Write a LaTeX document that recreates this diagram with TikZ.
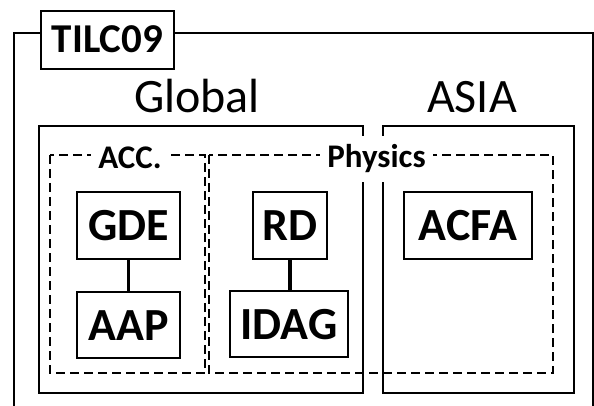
\documentclass[tikz,border=0pt]{standalone}
\usepackage{fontspec}
\setmainfont{Carlito}
\begin{document}
\begin{tikzpicture}[x=1pt,y=-1pt,
  box/.style={draw,line width=1.6pt,inner sep=0pt,fill=white,
    font=\bfseries\fontsize{46}{46}\selectfont,text height=30pt,text depth=0pt},
  region/.style={line width=2.8pt},
  grp/.style={line width=2.8pt,dash pattern=on 9pt off 5pt},
  grplabel/.style={fill=white,inner xsep=7pt,inner ysep=9pt,
    font=\bfseries\fontsize{33}{33}\selectfont},
  bigtitle/.style={font=\fontsize{48}{48}\selectfont,anchor=base},
  link/.style={line width=3.2pt}]
\useasboundingbox (0,0) rectangle (594,406);
% outer frame
\draw[line width=2pt] (14,406) -- (14,33) -- (592.5,33) -- (592.5,406);
\node[draw,line width=1.6pt,fill=white,inner sep=0pt,minimum width=133pt,minimum height=58pt,
  font=\bfseries\fontsize{41}{41}\selectfont,text height=26pt,text depth=0pt] (tilc) at (107.5,40) {TILC09};
% titles
\node[bigtitle] (global) at (197,113) {Global};
\node[bigtitle] (asia) at (472,113) {ASIA};
% regions
\draw[region] (39,126) rectangle (363,393);
\draw[region] (383,126) rectangle (574,393);
% groups
\draw[grp] (50,155) rectangle (205,373);
\draw[grp] (209,155) rectangle (553,373);
\node[grplabel,anchor=base] (acc) at (130,169) {ACC.};
\node[grplabel,anchor=base] (phys) at (376.5,168) {Physics};
% boxes
\node[box,minimum width=103pt,minimum height=67pt] (gde) at (128.5,225.5) {GDE};
\node[box,minimum width=103pt,minimum height=66pt] (aap) at (128.5,325) {AAP};
\node[box,minimum width=74pt,minimum height=67pt] (rd) at (290,225.5) {RD};
\node[box,minimum width=118pt,minimum height=66pt] (idag) at (289,324) {IDAG};
\node[box,minimum width=128pt,minimum height=67pt] (acfa) at (468,225.5) {ACFA};
% links
\draw[link] (gde.south) -- (aap.north);
\draw[link] (rd.south) -- (rd.south |- idag.north);
\end{tikzpicture}
\end{document}
